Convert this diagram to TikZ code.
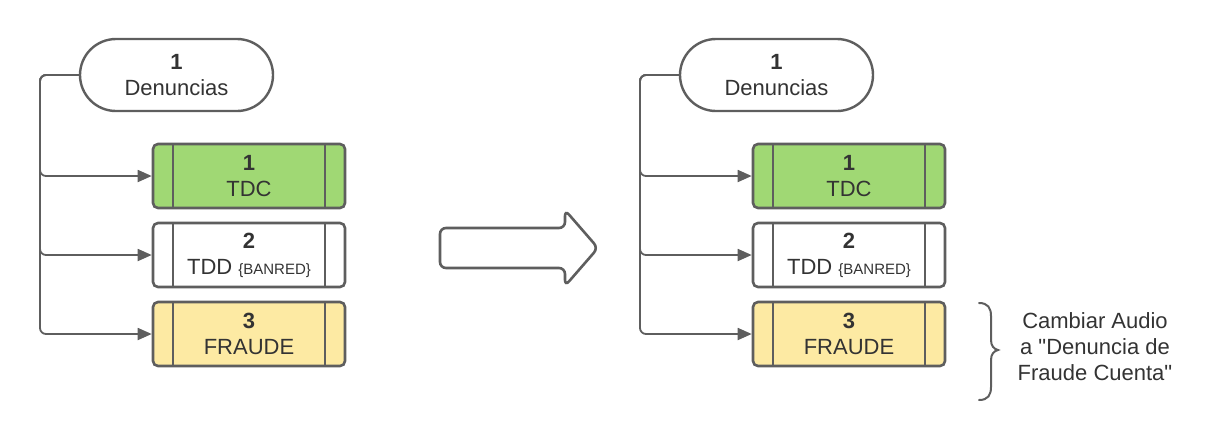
\documentclass[tikz,border=0pt]{standalone}
\usepackage{fontspec}
\setmainfont{Liberation Sans}[Ligatures=TeXOff]
\usetikzlibrary{positioning,arrows.meta}
\definecolor{linegray}{HTML}{5E5E5E}
\definecolor{textgray}{HTML}{333333}
\definecolor{tdcgreen}{HTML}{A0D874}
\definecolor{fraudeyellow}{HTML}{FDEAA3}
\begin{document}
\begin{tikzpicture}[x=0.5pt, y=-0.5pt,
                every node/.append style={font=\fontsize{11}{13}\selectfont, text=textgray, align=center},
                pill/.style={draw=linegray, line width=1.2pt, fill=white, rounded corners=18pt,
                    minimum width=96.5pt, minimum height=36pt, inner sep=0pt},
                option/.style={draw=linegray, line width=1.3pt, rounded corners=2.5pt,
                    minimum width=96pt, minimum height=32pt, inner sep=0pt,
                    path picture={
                        \draw[linegray, line width=1.3pt]
                            ([xshift=10pt]path picture bounding box.north west) --
                            ([xshift=10pt]path picture bounding box.south west)
                            ([xshift=-10pt]path picture bounding box.north east) --
                            ([xshift=-10pt]path picture bounding box.south east);}},
                conn/.style={draw=linegray, line width=0.9pt, rounded corners=3pt,
                    -{Triangle[length=7pt,width=6pt]}},
                brace/.style={draw=linegray, line width=1pt, line cap=round}]
                \useasboundingbox (0,0) rectangle (1220,440);
                % before
                \begin{scope}
                \node[pill] (denl) at (176.5,75) {\textbf{1}\\Denuncias};
                \node[option, fill=tdcgreen] (tdcl) at (249,176) {\textbf{1}\\TDC};
                \node[option, fill=white] (tddl) at (249,255)
                    {\textbf{2}\\TDD {\fontsize{7.5}{8}\selectfont\{BANRED\}}};
                \node[option, fill=fraudeyellow] (fraudel) at (249,334) {\textbf{3}\\FRAUDE};
                \coordinate (busl) at (40,75);
                \draw[conn] (denl.west) -- (busl) |- (tdcl.west);
                \draw[conn] (denl.west) -- (busl) |- (tddl.west);
                \draw[conn] (denl.west) -- (busl) |- (fraudel.west);
                \end{scope}
                % big arrow
                \draw[linegray, line width=1.3pt, fill=white, rounded corners=3pt]
                    (440,228) -- (565,228) -- (565,210) -- (598,248) -- (565,286)
                    -- (565,268) -- (440,268) -- cycle;
                % after
                \begin{scope}
                \node[pill] (denr) at (776.5,75) {\textbf{1}\\Denuncias};
                \node[option, fill=tdcgreen] (tdcr) at (849,176) {\textbf{1}\\TDC};
                \node[option, fill=white] (tddr) at (849,255)
                    {\textbf{2}\\TDD {\fontsize{7.5}{8}\selectfont\{BANRED\}}};
                \node[option, fill=fraudeyellow] (frauder) at (849,334) {\textbf{3}\\FRAUDE};
                \coordinate (busr) at (640,75);
                \draw[conn] (denr.west) -- (busr) |- (tdcr.west);
                \draw[conn] (denr.west) -- (busr) |- (tddr.west);
                \draw[conn] (denr.west) -- (busr) |- (frauder.west);
                \end{scope}
                % note
                \draw[brace] (979,303) .. controls (988,303) and (991,308) .. (991,316)
                    -- (991,340) .. controls (991,346) and (994,349) .. (998,350)
                    .. controls (994,351) and (991,354) .. (991,360)
                    -- (991,387) .. controls (991,395) and (988,400) .. (979,400);
                \node (note) at (1095,347)
                    {Cambiar Audio\\a "Denuncia de\\Fraude Cuenta"};
                \end{tikzpicture}
\end{document}
